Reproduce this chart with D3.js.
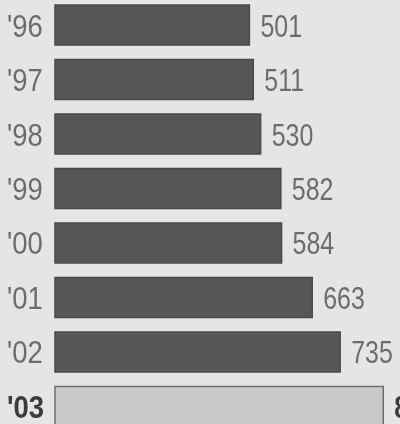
<!DOCTYPE html>
<html>
<head>
<meta charset="utf-8">
<script src="https://cdn.jsdelivr.net/npm/d3@7"></script>
<style>
  html, body { margin: 0; padding: 0; background: #e5e5e5; overflow: hidden; }
  svg { display: block; }
</style>
</head>
<body>
<svg id="chart"></svg>
<script>
const years = ["'96", "'97", "'98", "'99", "'00", "'01", "'02", "'03"]
const values = [501, 511, 530, 582, 584, 663, 735, 846]
const highlight = "'03"

const width = 400, height = 424

const svg = d3.select('#chart')
	.attr('width', width)
	.attr('height', height)

svg.append('rect')
	.attr('width', width)
	.attr('height', height)
	.attr('fill', '#e5e5e5')

// slight softening, the original is a newspaper scan
const defs = svg.append('defs')
defs.append('filter').attr('id', 'soft')
	.append('feGaussianBlur').attr('stdDeviation', 0.6)

const data = years.map((y, i) => ({ year: y, value: values[i] }))

const x = d3.scaleLinear().domain([0, 1000]).range([55, 55 + 388])
const y = d3.scaleBand()
	.domain(years)
	.range([5, 426.5])
	.paddingInner(0.266)
	.paddingOuter(0)

const g = svg.append('g').attr('filter', 'url(#soft)')

g.selectAll('rect.bar')
	.data(data)
	.join('rect')
	.attr('class', 'bar')
	.attr('x', x(0))
	.attr('y', (d) => y(d.year))
	.attr('width', (d) => x(d.value) - x(0))
	.attr('height', y.bandwidth())
	.attr('fill', (d) => (d.year === highlight ? '#c9c9c9' : '#575757'))
	.attr('stroke', (d) => (d.year === highlight ? '#707070' : '#4a4a4a'))
	.attr('stroke-width', 1.5)

// condensed type: squeeze Liberation Sans horizontally
const narrow = 0.78
const textY = (d) => y(d.year) + y.bandwidth() / 2 + 11.5

g.selectAll('text.year')
	.data(data)
	.join('text')
	.attr('class', 'year')
	.attr('transform', (d) => `translate(7,${textY(d)}) scale(0.86,1)`)
	.style('font-family', "'Liberation Sans', Arial, sans-serif")
	.style('font-size', '32px')
	.style('font-weight', (d) => (d.year === highlight ? 'bold' : 'normal'))
	.attr('fill', (d) => (d.year === highlight ? '#3a3a3a' : '#6c6c6c'))
	.text((d) => d.year)

g.selectAll('text.value')
	.data(data)
	.join('text')
	.attr('class', 'value')
	.attr('transform', (d) => `translate(${x(d.value) + 11},${textY(d)}) scale(${narrow},1)`)
	.style('font-family', "'Liberation Sans', Arial, sans-serif")
	.style('font-size', '32px')
	.style('font-weight', (d) => (d.year === highlight ? 'bold' : 'normal'))
	.attr('fill', (d) => (d.year === highlight ? '#3a3a3a' : '#6c6c6c'))
	.text((d) => d.value)
</script>
</body>
</html>
